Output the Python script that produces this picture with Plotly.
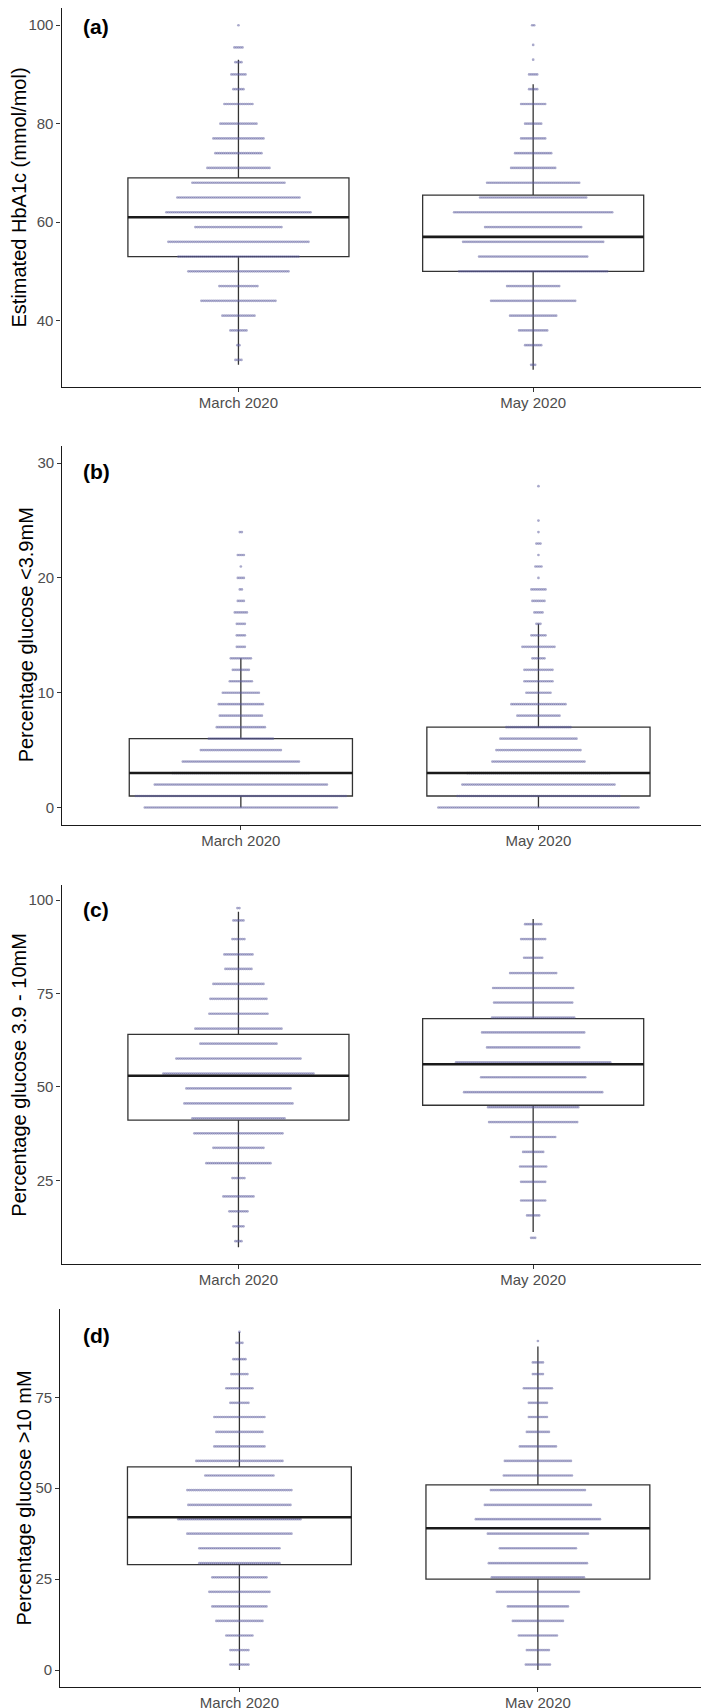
import plotly.graph_objects as go

W, H = 709, 1708
FONT = "Liberation Sans, Arial, sans-serif"

CATEGORIES = ["March 2020", "May 2020"]

# ---------------- Panel (a): Estimated HbA1c ----------------
A_MAR_Y = [100, 95.5, 92.5, 90, 87, 84, 80, 77, 74, 71, 68, 65, 62, 59, 56, 53, 50, 47, 44, 41, 38, 35, 32]
A_MAR_N = [1, 5, 4, 8, 6, 15, 19, 26, 24, 32, 47, 62, 73, 44, 71, 61, 51, 20, 38, 17, 9, 2, 4]
A_MAY_Y = [100, 96, 93, 90, 87, 84, 80, 77, 74, 71, 68, 65, 62, 59, 56, 53, 50, 47, 44, 41, 38, 35, 31]
A_MAY_N = [2, 1, 1, 5, 5, 13, 9, 13, 19, 23, 47, 54, 80, 49, 71, 55, 75, 27, 43, 24, 15, 9, 3]
# box stats: lower whisker, q1, median, q3, upper whisker
A_MAR_BOX = [31, 53, 61, 69, 93]
A_MAY_BOX = [30, 50, 57, 65.5, 88]

# ---------------- Panel (b): % glucose < 3.9 mM ----------------
B_MAR_Y = [0, 1, 2, 3, 4, 5, 6, 7, 8, 9, 10, 11, 12, 13, 14, 15, 16, 17, 18, 19, 20, 21, 22, 24]
B_MAR_N = [97, 106, 87, 69, 59, 41, 33, 25, 22, 23, 19, 12, 9, 11, 5, 5, 5, 7, 4, 2, 4, 1, 4, 2]
B_MAY_Y = [0, 1, 2, 3, 4, 5, 6, 7, 8, 9, 10, 11, 12, 13, 14, 15, 16, 17, 18, 19, 20, 21, 22, 23, 24, 25, 28]
B_MAY_N = [101, 82, 77, 72, 47, 43, 39, 33, 22, 28, 13, 15, 15, 7, 17, 8, 3, 5, 7, 8, 1, 4, 1, 3, 1, 1, 1]
B_MAR_BOX = [0, 1, 3, 6, 13]
B_MAY_BOX = [0, 1, 3, 7, 16]

# ---------------- Panel (c): % glucose 3.9 - 10 mM ----------------
C_MAR_Y = [97.9, 94.6, 89.6, 85.5, 81.6, 77.6, 73.6, 69.6, 65.6, 61.6, 57.6, 53.6, 49.6, 45.6, 41.6, 37.6, 33.7, 29.6, 25.6, 20.7, 16.7, 12.7, 8.7]
C_MAR_N = [2, 6, 7, 15, 14, 26, 29, 30, 44, 39, 63, 76, 53, 55, 47, 45, 26, 33, 7, 16, 10, 6, 4]
C_MAY_Y = [93.6, 89.6, 84.6, 80.5, 76.5, 72.6, 68.6, 64.6, 60.6, 56.6, 52.6, 48.6, 44.6, 40.6, 36.6, 32.6, 28.7, 24.6, 19.6, 15.6, 9.6]
C_MAY_N = [9, 13, 10, 24, 41, 40, 42, 52, 47, 78, 53, 70, 46, 45, 23, 11, 14, 13, 13, 7, 3]
C_MAR_BOX = [7.1, 41.1, 53, 64.1, 96.9]
C_MAY_BOX = [11.2, 45.1, 56.1, 68.3, 95.0]

# ---------------- Panel (d): % glucose > 10 mM ----------------
D_MAR_Y = [93, 90, 85.5, 81.4, 77.5, 73.5, 69.6, 65.5, 61.5, 57.5, 53.5, 49.5, 45.4, 41.5, 37.5, 33.5, 29.4, 25.5, 21.5, 17.5, 13.5, 9.5, 5.5, 1.5]
D_MAR_N = [1, 4, 7, 9, 14, 10, 26, 24, 26, 44, 35, 53, 52, 62, 53, 41, 41, 28, 31, 28, 24, 14, 10, 10]
D_MAY_Y = [90.5, 84.6, 81.4, 77.5, 73.5, 69.6, 65.5, 61.5, 57.5, 53.5, 49.5, 45.4, 41.5, 37.5, 33.5, 29.4, 25.5, 21.5, 17.5, 13.5, 9.5, 5.5, 1.5]
D_MAY_N = [1, 6, 6, 15, 10, 10, 12, 19, 34, 35, 48, 54, 63, 51, 39, 50, 47, 42, 31, 26, 20, 12, 13]
D_MAR_BOX = [0, 29, 42, 55.9, 93]
D_MAY_BOX = [0, 25, 39, 50.9, 89]

PANEL_LABELS = ["(a)", "(b)", "(c)", "(d)"]
Y_TITLES = ["Estimated HbA1c (mmol/mol)", "Percentage glucose <3.9mM",
            "Percentage glucose 3.9 - 10mM", "Percentage glucose >10 mM"]
Y_TICKS = [[40, 60, 80, 100], [0, 10, 20, 30], [25, 50, 75, 100], [0, 25, 50, 75]]

DATA = [
    [(A_MAR_Y, A_MAR_N, A_MAR_BOX), (A_MAY_Y, A_MAY_N, A_MAY_BOX)],
    [(B_MAR_Y, B_MAR_N, B_MAR_BOX), (B_MAY_Y, B_MAY_N, B_MAY_BOX)],
    [(C_MAR_Y, C_MAR_N, C_MAR_BOX), (C_MAY_Y, C_MAY_N, C_MAY_BOX)],
    [(D_MAR_Y, D_MAR_N, D_MAR_BOX), (D_MAY_Y, D_MAY_N, D_MAY_BOX)],
]

# ---------------- layout geometry (pixels) ----------------
# x0, x1, y_top, y_bottom, y-range, y-title x centre, label y centre
GEOM = [
    (53.6, 702.0, 0.0, 379.0, [26.5, 103.5], 11.0, 18.3),
    (54.3, 709.0, 438.0, 816.7, [-1.5, 31.5], 18.0, 463.3),
    (53.6, 702.0, 877.3, 1256.0, [2.6, 104.0], 11.0, 901.7),
    (52.3, 709.0, 1301.0, 1679.0, [-4.67, 99.3], 15.5, 1327.0),
]
X_RANGE = [0.4, 2.6]
BOX_WIDTH = 0.75
DOT_SPACING_PX = 2.0
DOT_SIZE = 2.7
DOT_COLOR = "rgba(90, 90, 155, 0.52)"
LINE_COLOR = "#333333"
AXIS_COLOR = "#1a1a1a"
TICK_FONT = dict(family=FONT, size=15, color="#4d4d4d")

fig = go.Figure()
layout_axes = {}
annotations = []

for p, (groups, geom) in enumerate(zip(DATA, GEOM)):
    x0, x1, yt, yb, yr, title_x, label_y = geom
    sfx = "" if p == 0 else str(p + 1)
    xa, ya = "x" + sfx, "y" + sfx
    px_per_unit = (x1 - x0) / (X_RANGE[1] - X_RANGE[0])
    dx = DOT_SPACING_PX / px_per_unit

    for c, (ys, ns, box) in enumerate(groups):
        pos = c + 1
        xs_d, ys_d = [], []
        for yv, n in zip(ys, ns):
            for j in range(n):
                xs_d.append(pos + (j - (n - 1) / 2) * dx)
                ys_d.append(yv)
        fig.add_trace(go.Scatter(
            x=xs_d, y=ys_d, mode="markers", xaxis=xa, yaxis=ya,
            marker=dict(size=DOT_SIZE, color=DOT_COLOR, line=dict(width=0)),
            showlegend=False, hoverinfo="skip"))
        lo, q1, med, q3, hi = box
        fig.add_trace(go.Box(
            x=[pos], q1=[q1], median=[med], q3=[q3], lowerfence=[lo], upperfence=[hi],
            width=BOX_WIDTH, whiskerwidth=0, boxpoints=False,
            fillcolor="rgba(0,0,0,0)", line=dict(color=LINE_COLOR, width=1.3),
            xaxis=xa, yaxis=ya, showlegend=False, hoverinfo="skip"))
        fig.add_trace(go.Scatter(
            x=[pos - BOX_WIDTH / 2, pos + BOX_WIDTH / 2], y=[med, med], mode="lines",
            line=dict(color="#1a1a1a", width=2.6), xaxis=xa, yaxis=ya,
            showlegend=False, hoverinfo="skip"))

    layout_axes["xaxis" + sfx] = dict(
        domain=[x0 / W, x1 / W], anchor=ya, range=X_RANGE,
        tickmode="array", tickvals=[1, 2], ticktext=CATEGORIES,
        showline=True, linecolor=AXIS_COLOR, linewidth=1.3,
        ticks="outside", ticklen=4, tickcolor=LINE_COLOR, tickwidth=1.1,
        ticklabelstandoff=-2,
        tickfont=TICK_FONT, showgrid=False, zeroline=False, automargin=False)
    layout_axes["yaxis" + sfx] = dict(
        domain=[1 - yb / H, 1 - yt / H], anchor=xa, range=yr,
        tickmode="array", tickvals=Y_TICKS[p],
        showline=True, linecolor=AXIS_COLOR, linewidth=1.3,
        ticks="outside", ticklen=4, tickcolor=LINE_COLOR, tickwidth=1.1,
        tickfont=TICK_FONT, showgrid=False, zeroline=False, automargin=False)

    annotations.append(dict(
        text="<b>" + PANEL_LABELS[p] + "</b>", xref="paper", yref="paper",
        x=72.7 / W, y=1 - label_y / H, xanchor="left", yanchor="middle",
        showarrow=False, font=dict(family=FONT, size=21, color="black")))
    annotations.append(dict(
        text=Y_TITLES[p], xref="paper", yref="paper", textangle=-90,
        x=title_x / W, y=1 - (yt + yb) / 2 / H, xanchor="center", yanchor="middle",
        showarrow=False, font=dict(family=FONT, size=20, color="black")))

fig.update_layout(
    width=W, height=H, margin=dict(l=0, r=0, t=0, b=0),
    paper_bgcolor="white", plot_bgcolor="white",
    showlegend=False, annotations=annotations, **layout_axes)

fig.write_html("out.html")
